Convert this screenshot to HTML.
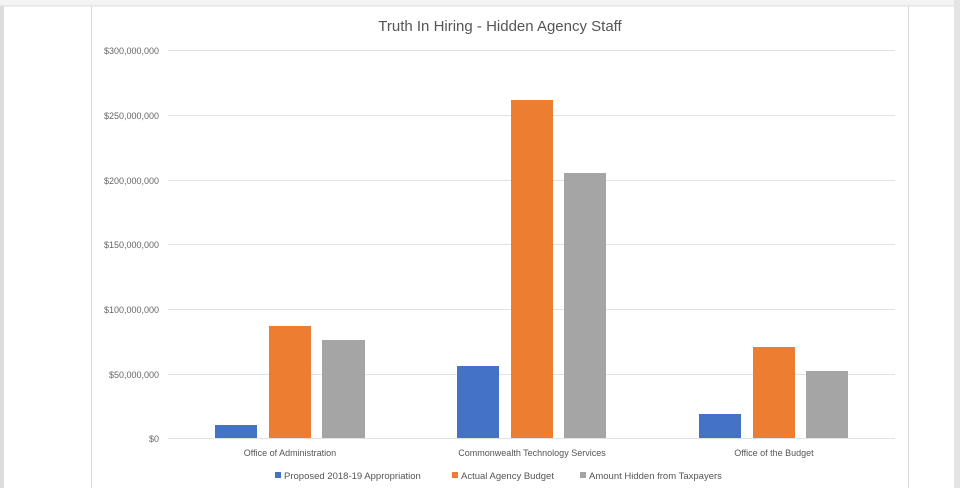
<!DOCTYPE html>
<html><head><style>
body{margin:0;width:960px;height:488px;overflow:hidden;background:#fff;font-family:"Liberation Sans",sans-serif;}
</style></head><body>
<svg width="960" height="488" xmlns="http://www.w3.org/2000/svg" font-family="Liberation Sans, sans-serif">
<rect x="0" y="0" width="960" height="488" fill="#fff"/>
<rect x="0" y="0" width="4" height="488" fill="#ddd"/>
<rect x="0" y="0" width="960" height="6" fill="#f4f4f4"/>
<line x1="0" y1="6" x2="960" y2="6" stroke="#ddd"/>
<line x1="91.5" y1="6" x2="91.5" y2="488" stroke="#ddd"/>
<line x1="908.5" y1="6" x2="908.5" y2="488" stroke="#ddd"/>
<rect x="954" y="0" width="6" height="488" fill="#e4e4e4"/>
<text x="500" y="31" font-size="15" fill="#555" text-anchor="middle">Truth In Hiring - Hidden Agency Staff</text>
<g stroke="#e2e2e2" stroke-width="1">
<line x1="168" y1="50.5" x2="895" y2="50.5"/>
<line x1="168" y1="115.5" x2="895" y2="115.5"/>
<line x1="168" y1="180.5" x2="895" y2="180.5"/>
<line x1="168" y1="244.5" x2="895" y2="244.5"/>
<line x1="168" y1="309.5" x2="895" y2="309.5"/>
<line x1="168" y1="374.5" x2="895" y2="374.5"/>
<line x1="168" y1="438.5" x2="895" y2="438.5"/>
</g>
<g font-size="9" fill="#666" text-anchor="end">
<text x="159" y="54">$300,000,000</text>
<text x="159" y="119">$250,000,000</text>
<text x="159" y="184">$200,000,000</text>
<text x="159" y="248">$150,000,000</text>
<text x="159" y="313">$100,000,000</text>
<text x="159" y="378">$50,000,000</text>
<text x="159" y="442">$0</text>
</g>
<g>
<rect x="215" y="425" width="42" height="13" fill="#4472c4"/>
<rect x="269" y="326" width="42" height="112" fill="#ed7d31"/>
<rect x="322" y="340" width="43" height="98" fill="#a5a5a5"/>
<rect x="457" y="366" width="42" height="72" fill="#4472c4"/>
<rect x="511" y="100" width="42" height="338" fill="#ed7d31"/>
<rect x="564" y="173" width="42" height="265" fill="#a5a5a5"/>
<rect x="699" y="414" width="42" height="24" fill="#4472c4"/>
<rect x="753" y="347" width="42" height="91" fill="#ed7d31"/>
<rect x="806" y="371" width="42" height="67" fill="#a5a5a5"/>
</g>
<g font-size="9" fill="#555" text-anchor="middle">
<text x="290" y="456">Office of Administration</text>
<text x="532" y="456">Commonwealth Technology Services</text>
<text x="774" y="456">Office of the Budget</text>
</g>
<g font-size="9.5" fill="#555">
<rect x="275" y="472" width="6" height="6" fill="#4472c4"/>
<text x="284" y="479">Proposed 2018-19 Appropriation</text>
<rect x="452" y="472" width="6" height="6" fill="#ed7d31"/>
<text x="461" y="479">Actual Agency Budget</text>
<rect x="580" y="472" width="6" height="6" fill="#a5a5a5"/>
<text x="589" y="479">Amount Hidden from Taxpayers</text>
</g>
</svg>
</body></html>
